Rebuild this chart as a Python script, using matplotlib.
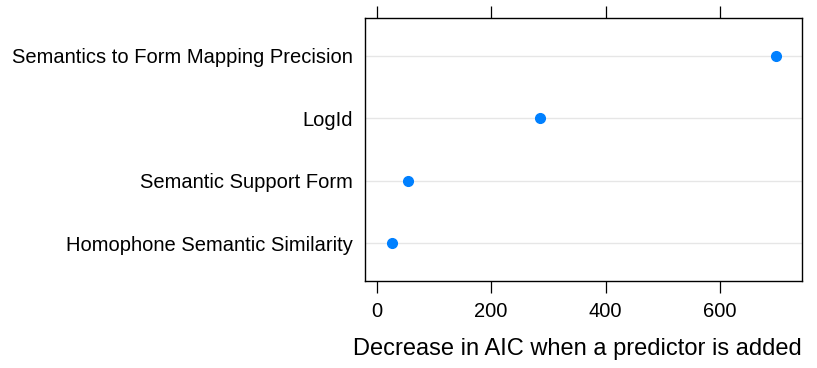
import matplotlib
matplotlib.use("Agg")
import matplotlib.pyplot as plt

plt.rcParams['font.family'] = ['Liberation Sans', 'DejaVu Sans']

predictors = ['Homophone Semantic Similarity', 'Semantic Support Form',
              'LogId', 'Semantics to Form Mapping Precision']
aic_drop = [26, 55, 285, 697]
xticks = [0, 200, 400, 600]

fig = plt.figure(figsize=(8.17, 3.68), dpi=100)
ax = fig.add_axes([0.4468, 0.2364, 0.5348, 0.7139])

ypos = list(range(1, len(predictors) + 1))
for y in ypos:
    ax.axhline(y, color='#e6e6e6', linewidth=1.0, zorder=1)
ax.plot(aic_drop, ypos, 'o', color='#0080ff', markersize=7, zorder=3)

ax.set_xlim(-20.4, 743)
ax.set_ylim(0.4, 4.6)
ax.set_yticks(ypos)
ax.set_yticklabels(predictors, fontsize=14.5)
ax.tick_params(axis='y', length=0, pad=8.5)
ax.set_xticks(xticks)
ax.set_xticklabels([str(v) for v in xticks], fontsize=14.5)
ax.tick_params(axis='x', direction='out', length=8.5, width=0.9,
               top=True, labeltop=False, pad=6.5)
for s in ax.spines.values():
    s.set_linewidth(1.0)
ax.set_xlabel('Decrease in AIC when a predictor is added', fontsize=17, labelpad=12)
ax.xaxis.label.set_x(0.487)

fig.savefig('out.png', dpi=100)
